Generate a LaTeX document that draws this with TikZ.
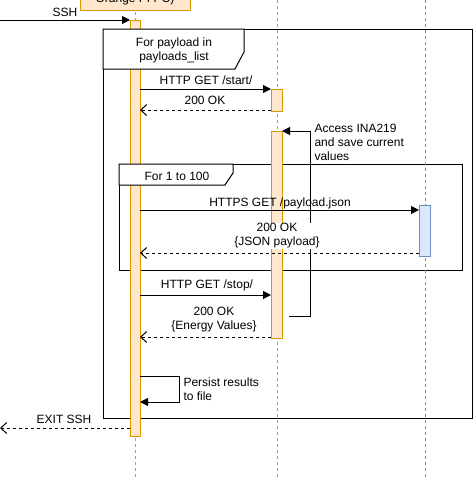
\documentclass[tikz,border=0pt]{standalone}
\usepackage{fontspec}
\setmainfont{Liberation Sans}
\usetikzlibrary{arrows.meta}
\definecolor{actfill}{HTML}{FFE6CC}
\definecolor{actline}{HTML}{D79B00}
\definecolor{srvfill}{HTML}{DAE8FC}
\definecolor{srvline}{HTML}{6C8EBF}

\begin{document}
\begin{tikzpicture}[x=1pt,y=-1pt,font=\fontsize{12}{14}\selectfont,line width=1pt,
  lifeline/.style={actline,line width=1pt,dash pattern=on 3pt off 3pt},
  srvlifeline/.style={srvline,line width=1pt,dash pattern=on 3pt off 3pt},
  actbar/.style={draw=actline,fill=actfill},
  srvbar/.style={draw=srvline,fill=srvfill},
  looptag/.style={draw,fill=white},
  call/.style={-{Triangle[length=8pt,width=8pt]}},
  reply/.style={dash pattern=on 3pt off 3pt,-{Straight Barb[length=6pt,width=11pt,line width=1pt]}},
  lbl/.style={inner sep=1pt,align=center}]
\useasboundingbox (0,0) rectangle (474,480);

\begin{scope}
% frames
\coordinate (f1a) at (103,29);
\coordinate (f1b) at (472,418);
\coordinate (f2a) at (119,164);
\coordinate (f2b) at (462,270);

\draw (f1a) rectangle (f1b);
\draw (f2a) rectangle (f2b);

% lifelines
\draw[lifeline] (135.5,0) -- (135.5,480);
\draw[lifeline] (277.5,0) -- (277.5,480);
\draw[srvlifeline] (425.5,0) -- (425.5,480);

\node[actbar,minimum width=110pt,minimum height=22pt,inner sep=0pt] (opi) at (135,-1) {\raisebox{-1pt}{Orange PI PC)}};

% activations
\draw[actbar] (130,20) rectangle (140,436);
\draw[actbar] (271,89) rectangle (282,111);
\draw[actbar] (271,131) rectangle (282,338);
\draw[srvbar] (419,205) rectangle (430,256);

% loop tags
\draw[looptag] (103,29) -- (103,69) -- (235,69) -- (244,52) -- (244,29) -- cycle;
\draw[looptag] (119,164) -- (119,185) -- (225,185) -- (233,173) -- (233,164) -- cycle;
\node[lbl] (loopa) at (174,50) {For payload in\\payloads\_list};
\node[lbl] (loopb) at (177,176) {For 1 to 100};

% message ends
\coordinate (s0) at (0,20);
\coordinate (s1) at (130,20);
\coordinate (g1) at (140,89);
\coordinate (g2) at (271,89);
\coordinate (o1) at (271,110);
\coordinate (o2) at (140,110);
\coordinate (h1) at (140,210);
\coordinate (h2) at (419,210);
\coordinate (j1) at (419,253);
\coordinate (j2) at (140,253);
\coordinate (t1) at (140,295);
\coordinate (t2) at (271,295);
\coordinate (e1) at (271,337);
\coordinate (e2) at (140,337);
\coordinate (x1) at (130,428);
\coordinate (x2) at (0,428);
\coordinate (ina) at (282,131);
\coordinate (pr) at (140,376);
\coordinate (pq) at (140,402);

\draw[call] (s0) -- (s1);
\draw[call] (g1) -- (g2);
\draw[reply] (o1) -- (o2);
\draw[call] (289,316) -- (310,316) -- (310,131) -- (ina);
\draw[call] (h1) -- (h2);
\draw[reply] (j1) -- (j2);
\draw[call] (t1) -- (t2);
\draw[reply] (e1) -- (e2);
\draw[call] (pr) -- (179,376) -- (179,402) -- (pq);
\draw[reply] (x1) -- (x2);

\node[lbl] (ssh) at (65,12) {SSH};
\node[lbl] (getstart) at (206,80) {HTTP GET /start/};
\node[lbl] (okstart) at (205,100) {200 OK};
\node[lbl,align=left,anchor=west] (inanote) at (313,142) {Access INA219\\and save current\\values};
\node[lbl] (getjson) at (280,203) {HTTPS GET /payload.json};
\node[lbl,fill=white] (okjson) at (277,236) {200 OK\\\{JSON payload\}};
\node[lbl] (getstop) at (207,285) {HTTP GET /stop/};
\node[lbl] (okstop) at (214,320) {200 OK\\\{Energy Values\}};
\node[lbl,align=left,anchor=west] (persist) at (182,389) {Persist results\\to file};
\node[lbl] (exit) at (64,419) {EXIT SSH};
\end{scope}

\end{tikzpicture}
\end{document}
